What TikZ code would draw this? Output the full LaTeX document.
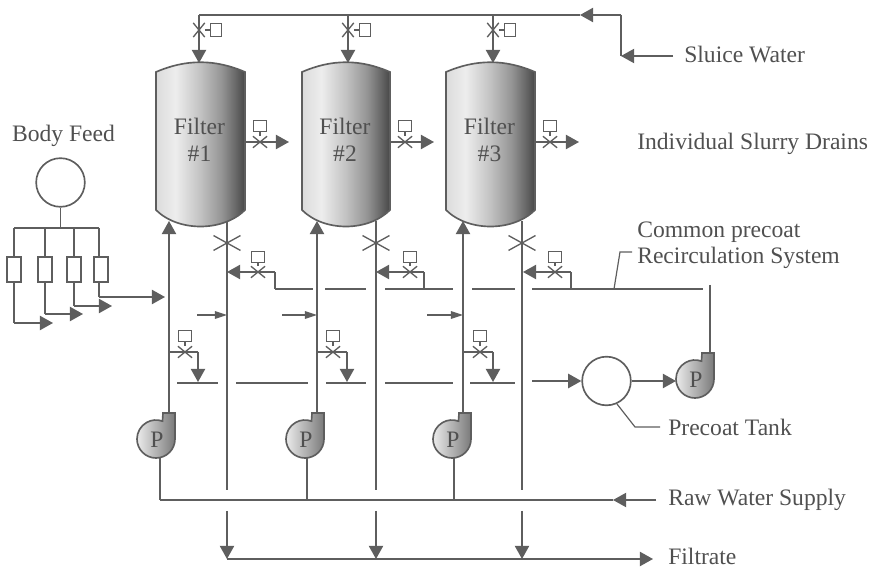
\documentclass[tikz,border=0pt]{standalone}
\usepackage{fontspec}
\setmainfont{Liberation Serif}
\usetikzlibrary{arrows.meta,shapes.misc}
\definecolor{linie}{HTML}{5E5E5E}
\definecolor{schrift}{HTML}{505050}
\def\h{0.0265}
\def\punkt#1#2{({(#1)*\h},{(-(#2))*\h})}
\def\marke#1#2#3{\coordinate (#1) at ({(#2)*\h},{(-(#3))*\h});}
\pgfdeclarehorizontalshading{filterverlauf}{100bp}{
	color(0bp)=(black!14); color(25bp)=(black!14); color(36bp)=(black!7);
	color(50bp)=(black!24); color(62bp)=(black!42); color(70bp)=(black!60);
	color(75bp)=(black!72); color(100bp)=(black!72)}
\tikzset{
	rohr/.style={draw=linie,line width=1.25pt},
	duenn/.style={draw=linie,line width=0.9pt},
	kurz/.style={draw=linie,line width=0.9pt,-{Triangle[length=3.2mm,width=2mm]}},
	schild/.style={inner sep=0pt,text=schrift,font=\fontsize{17.8}{20}\selectfont},
	kasten/.style={draw=linie,line width=0.9pt,fill=white,inner sep=0pt,minimum width=0.34cm,minimum height=0.28cm},
	kreuz/.style={draw=linie,line width=1pt,cross out,inner sep=0pt,minimum width=0.34cm,minimum height=0.27cm},
	grosskreuz/.style={draw=linie,line width=1pt,cross out,inner sep=0pt,minimum width=0.68cm,minimum height=0.36cm},
	widerstand/.style={draw=linie,line width=1.25pt,fill=white,inner sep=0pt,minimum width=0.37cm,minimum height=0.66cm},
	runde/.style={circle,draw=linie,line width=1.25pt,fill=white,inner sep=0pt,minimum size=1.29cm},
}
% valve with its box: name, x, y, box offset x, box offset y
\def\ventil#1#2#3#4#5{
	\node[kreuz] (#1) at \punkt{#2}{#3} {};
	\node[kasten] (#1k) at \punkt{#2+#4}{#3+#5} {};
	\draw[duenn] (#1) -- (#1k);
}
% pump: name, x, y
\def\pumpe#1#2#3{
	\filldraw[rohr,left color=black!8,right color=black!52]
		\punkt{#2+19}{#3-26} -- \punkt{#2+19}{#3}
		arc[start angle=0,end angle=-290,radius={19*\h}]
		-- \punkt{#2+7}{#3-26} -- cycle;
	\node[schild] (#1) at \punkt{#2+1}{#3+1} {P};
}
\def\filter#1#2#3{
	\filldraw[rohr,shading=filterverlauf]
		\punkt{#2}{72}
		.. controls \punkt{#2+30}{59} and \punkt{#3-30}{59} .. \punkt{#3}{72}
		-- \punkt{#3}{210}
		.. controls \punkt{#3-22}{232} and \punkt{#2+22}{232} .. \punkt{#2}{210}
		-- cycle;
}

\begin{document}
\begin{tikzpicture}[>={Triangle[length=3.5mm,width=3.8mm]}]
\useasboundingbox \punkt{0}{0} rectangle \punkt{878}{569};

% filters
\foreach \nr/\li/\re/\zu/\fu/\au in {1/156/245/199/169/227,2/302/390/348/317/376,3/446/535/493/463/522}{
	\filter{\nr}{\li}{\re}
	\node[schild,align=center] (filter\nr) at \punkt{(\li+\re)/2-1}{140} {Filter\\\#\nr};
	\marke{sp\nr}{\zu}{15}
	\marke{zulauf\nr}{\zu}{63}
	\begin{scope}[every node/.append style={rotate=90}]
		\ventil{oben\nr}{\zu}{30}{17}{0}
	\end{scope}
	\draw[rohr,->] (sp\nr) -- (zulauf\nr);
	\marke{ab\nr}{\re}{142}
	\marke{abende\nr}{\re+44}{142}
	\ventil{seite\nr}{\re+15}{142}{0}{-16}
	\draw[rohr,->] (ab\nr) -- (abende\nr);
	\marke{fuss\nr}{\fu}{413}
	\marke{kopf\nr}{\fu}{221}
	\draw[rohr,->] (fuss\nr) -- (kopf\nr);
	\marke{aus\nr}{\au}{221}
	\marke{ausende\nr}{\au}{490}
	\draw[rohr] (aus\nr) -- (ausende\nr);
	\node[grosskreuz] (sperre\nr) at \punkt{\au}{243} {};
	\marke{kl\nr}{\au}{511}
	\marke{sam\nr}{\au}{559}
	\draw[duenn,line width=1.1pt,->] (kl\nr) -- (sam\nr);
}
\marke{pfeila}{227}{315}
\marke{pfeilb}{317}{315}
\marke{pfeilc}{463}{315}
\marke{starta}{197}{315}
\marke{startb}{282}{315}
\marke{startc}{427}{315}
\draw[kurz] (starta) -- (pfeila);
\draw[kurz] (startb) -- (pfeilb);
\draw[kurz] (startc) -- (pfeilc);

% sluice water
\marke{sl1}{621}{15}
\marke{sl2}{621}{56}
\marke{sl3}{673}{56}
\marke{sl4}{580}{15}
\draw[rohr] (sp1) -- (sl4);
\draw[rohr,->] (sl1) -- (sl4);
\draw[rohr] (sl1) -- (sl2);
\draw[duenn,->] (sl3) -- (sl2);
\node[schild,anchor=base west] (sluice) at \punkt{684}{63} {Sluice Water};
\node[schild,anchor=base west] (drains) at \punkt{637}{150} {Individual Slurry Drains};

% body feed
\node[schild,anchor=base] (body) at \punkt{63.5}{142} {Body Feed};
\node[runde] (feed) at \punkt{60.5}{182.5} {};
\marke{balken}{60.5}{228}
\draw[rohr] (feed) -- (balken);
\draw[rohr] \punkt{14}{228} -- \punkt{99}{228};
\foreach \x/\b/\y/\t/\m in {14/14/323/53/a,45/45/314/83/b,74/74/306/112/c,99/101/297/165/d}{
	\marke{st\m}{\x}{228}
	\marke{eck\m}{\x}{\y}
	\marke{ziel\m}{\t}{\y}
	\draw[rohr] (st\m) -- (eck\m);
	\draw[rohr,->] (eck\m) -- (ziel\m);
	\node[widerstand] (wid\m) at \punkt{\b}{269.5} {};
}

% common precoat line
\foreach \von/\bis in {275/313,325/366,385/453,472/515,532/703}{
	\draw[rohr] \punkt{\von}{289} -- \punkt{\bis}{289};
}
\foreach \nr/\t/\v/\c in {1/227/258/275,2/376/410/424,3/523/555/571}{
	\marke{re\nr}{\c}{289}
	\marke{rk\nr}{\c}{272}
	\marke{rt\nr}{\t}{272}
	\draw[rohr] (re\nr) -- (rk\nr);
	\draw[rohr,->] (rk\nr) -- (rt\nr);
	\ventil{rueck\nr}{\v}{272}{0}{-15}
}
\marke{lk1}{614}{289}
\marke{lk2}{620}{252}
\marke{lk3}{632}{252}
\draw[duenn] (lk1) -- (lk2) -- (lk3);
\node[schild,anchor=base west] (common) at \punkt{637}{238} {Common precoat};
\node[schild,anchor=base west] (recirc) at \punkt{637}{264} {Recirculation System};

% tank line
\foreach \von/\bis in {177/218,236/308,326/366,385/453,470/515}{
	\draw[rohr] \punkt{\von}{383} -- \punkt{\bis}{383};
}
\foreach \nr/\fu/\v/\c in {1/169/185/198,2/317/333/347,3/463/480/493}{
	\marke{ta\nr}{\fu}{352}
	\marke{tk\nr}{\c}{352}
	\marke{te\nr}{\c}{382}
	\draw[rohr] (ta\nr) -- (tk\nr);
	\draw[rohr,->] (tk\nr) -- (te\nr);
	\ventil{tank\nr}{\v}{352}{0}{-16}
}
\node[runde] (tank) at \punkt{606.5}{381} {};
\marke{tz}{532}{381}
\draw[rohr,->] (tz) -- (tank.west);
\pumpe{p4}{695}{379}
\marke{p4ein}{676}{381}
\draw[rohr,->] (tank.east) -- (p4ein);
\marke{rl1}{710}{285}
\marke{rl2}{710}{353}
\draw[duenn,line width=1.1pt] (rl1) -- (rl2);
\marke{tl1}{617}{404}
\marke{tl2}{635}{427}
\marke{tl3}{660}{427}
\draw[duenn] (tl1) -- (tl2) -- (tl3);
\node[schild,anchor=base west] (precoat) at \punkt{668}{436} {Precoat Tank};

% raw water and filtrate
\foreach \nr/\x/\u in {1/156/160,2/305/307,3/452/454}{
	\pumpe{pp\nr}{\x}{439}
	\marke{pu\nr}{\u}{458}
	\marke{ro\nr}{\u}{500}
	\draw[duenn] (pu\nr) -- (ro\nr);
}
\marke{rw1}{656}{500}
\marke{rw2}{613}{500}
\draw[duenn] (rw2) -- (ro1);
\draw[duenn,->] (rw1) -- (rw2);
\node[schild,anchor=base west] (raw) at \punkt{668}{506} {Raw Water Supply};
\marke{fe}{653}{559}
\draw[rohr,->] (sam1) -- (fe);
\node[schild,anchor=base west] (filtrate) at \punkt{668}{565} {Filtrate};
\end{tikzpicture}
\end{document}
